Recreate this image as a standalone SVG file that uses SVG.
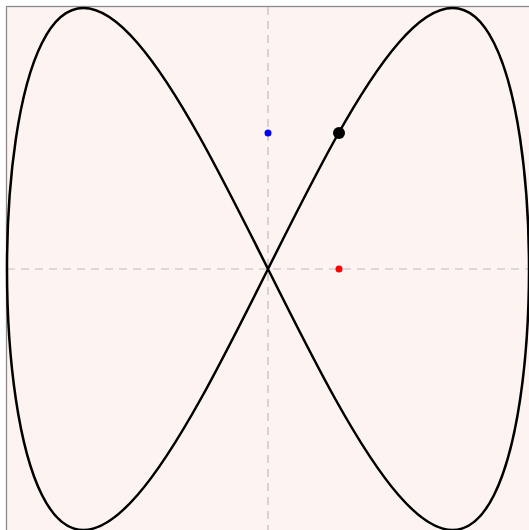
<svg xmlns="http://www.w3.org/2000/svg" width="529" height="530" viewBox="0 0 529 530">
<style>
.frame{fill:#fdf4f2;stroke:#8a8a8a;stroke-width:1.3}
.axis{stroke:#bdbdbd;stroke-width:1.2;stroke-dasharray:8 6;fill:none}
.curve{fill:none;stroke:#000;stroke-width:2.5;stroke-linejoin:round}
</style>
<rect width="529" height="530" fill="#ffffff"/>
<rect class="frame" x="6.5" y="6.5" width="530" height="530"/>
<g id="axes">
<line class="axis" x1="268" y1="7" x2="268" y2="530"/>
<line class="axis" x1="7" y1="269" x2="529" y2="269"/>
</g>
<g id="curve">
<path class="curve" d="M268,269 C290.777,223.447 313.551,177.95 335.552,138.5 C357.553,99.05 378.774,65.744 398.5,42.967 C418.226,20.19 436.449,8 452.555,8 C468.661,8 482.644,20.19 494.033,42.967 C505.422,65.744 514.212,99.05 520.107,138.5 C526.002,177.95 529,223.447 529,269 C529,314.553 526.002,360.05 520.107,399.5 C514.212,438.95 505.422,472.256 494.033,495.033 C482.644,517.81 468.661,530 452.555,530 C436.449,530 418.226,517.81 398.5,495.033 C378.774,472.256 357.553,438.95 335.552,399.5 C313.551,360.05 290.777,314.553 268,269 C245.223,223.447 222.449,177.95 200.448,138.5 C178.447,99.05 157.226,65.744 137.5,42.967 C117.774,20.19 99.551,8 83.445,8 C67.339,8 53.356,20.19 41.967,42.967 C30.578,65.744 21.788,99.05 15.893,138.5 C9.998,177.95 7,223.447 7,269 C7,314.553 9.998,360.05 15.893,399.5 C21.788,438.95 30.578,472.256 41.967,495.033 C53.356,517.81 67.339,530 83.445,530 C99.551,530 117.774,517.81 137.5,495.033 C157.226,472.256 178.447,438.95 200.448,399.5 C222.449,360.05 245.223,314.553 268,269 Z"/>
</g>
<g id="point">
<circle cx="339" cy="133" r="6" fill="#000"/>
</g>
<g id="proj-y">
<circle cx="268" cy="133" r="3.5" fill="#0000ff"/>
</g>
<g id="proj-x">
<circle cx="339" cy="269" r="3.5" fill="#ff0000"/>
</g>
</svg>
